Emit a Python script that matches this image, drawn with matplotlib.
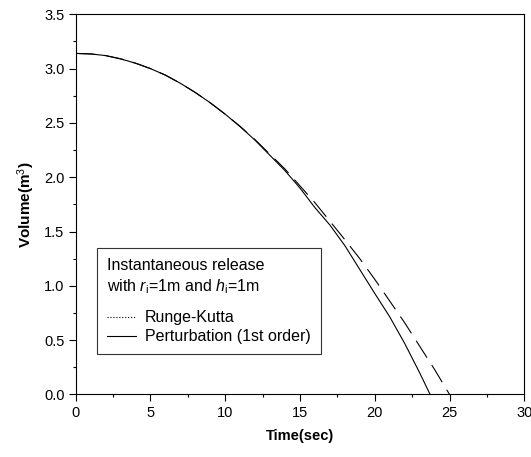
import matplotlib
matplotlib.use("Agg")
import matplotlib.pyplot as plt
from matplotlib.lines import Line2D
from matplotlib.ticker import MultipleLocator

plt.rcParams['font.family'] = ['Liberation Sans', 'DejaVu Sans']
plt.rcParams['mathtext.fontset'] = 'custom'
plt.rcParams['mathtext.rm'] = 'Liberation Sans'
plt.rcParams['mathtext.it'] = 'Liberation Sans:italic'
plt.rcParams['mathtext.bf'] = 'Liberation Sans:bold'

# Perturbation (1st order) - solid curve
t_pert = [0, 1, 2, 3, 4, 5, 6, 7, 8, 9, 10, 11, 12, 13, 14, 15, 16, 17,
          18, 19, 20, 21, 22, 23, 23.7]
v_pert = [3.14, 3.135, 3.12, 3.09, 3.05, 3.00, 2.94, 2.865, 2.78, 2.685,
          2.58, 2.465, 2.34, 2.20, 2.06, 1.90, 1.72, 1.56, 1.37, 1.15,
          0.93, 0.715, 0.47, 0.2, 0.0]

# Runge-Kutta - dashed curve
t_rk = [0, 1, 2, 3, 4, 5, 6, 7, 8, 9, 10, 11, 12, 13, 14, 15, 16, 17,
        18, 19, 20, 21, 22, 23, 24, 25]
v_rk = [3.14, 3.135, 3.12, 3.09, 3.05, 3.00, 2.94, 2.865, 2.78, 2.685,
        2.58, 2.468, 2.345, 2.21, 2.075, 1.92, 1.765, 1.595, 1.425, 1.25,
        1.06, 0.86, 0.66, 0.445, 0.23, 0.0]

fig = plt.figure(figsize=(5.31, 4.57), dpi=100)
ax = fig.add_axes([0.1426, 0.1368, 0.8448, 0.8319])

ax.plot(t_rk, v_rk, color='black', lw=0.8, linestyle=(0, (18, 8)))
ax.plot(t_pert, v_pert, color='black', lw=0.8)

ax.set_xlim(0, 30)
ax.set_ylim(0, 3.5)
ax.xaxis.set_major_locator(MultipleLocator(5))
ax.xaxis.set_minor_locator(MultipleLocator(2.5))
ax.yaxis.set_major_locator(MultipleLocator(0.5))
ax.yaxis.set_minor_locator(MultipleLocator(0.25))
ax.tick_params(which='major', direction='out', length=5, width=0.8,
               labelsize=10.5, pad=3)
ax.tick_params(which='minor', direction='out', length=2.5, width=0.8)
for s in ax.spines.values():
    s.set_linewidth(0.8)

ax.set_xlabel('Time(sec)', fontsize=10.5, fontweight='bold', labelpad=7)
ax.set_ylabel('Volume(m$^3$)', fontsize=11, fontweight='bold', labelpad=5)

handles = [Line2D([], [], color='black', lw=0.8, linestyle=':'),
           Line2D([], [], color='black', lw=0.8)]
leg = ax.legend(handles, ['Runge-Kutta', 'Perturbation (1st order)'],
                title='Instantaneous release\nwith $\\it{r}_{\\rm i}$=1m and $\\it{h}_{\\rm i}$=1m',
                loc='upper left', bbox_to_anchor=(0.048, 0.385),
                fontsize=11.5, title_fontsize=11.5, alignment='left',
                fancybox=False, framealpha=1, edgecolor='#333333',
                borderpad=0.6, handlelength=1.8, handletextpad=0.6,
                labelspacing=0.25, borderaxespad=0)
leg.get_title().set_linespacing(1.35)
leg._legend_box.sep = 10
leg.get_frame().set_linewidth(0.8)

fig.savefig('out.png', dpi=100)
